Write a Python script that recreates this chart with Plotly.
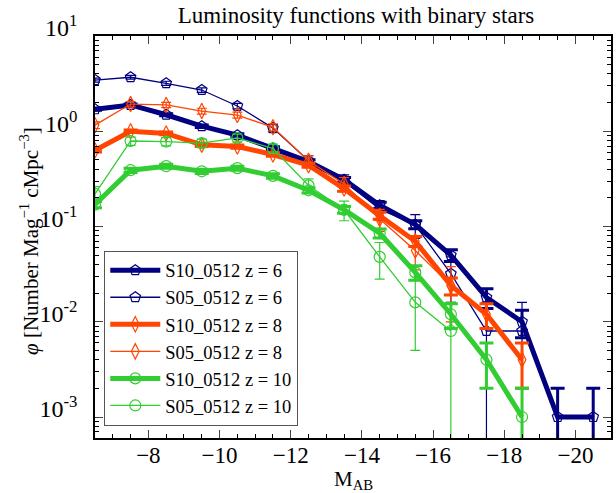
import plotly.graph_objects as go

# Magnitude bin centres
mag = [-6.5, -7.5, -8.5, -9.5, -10.5, -11.5, -12.5, -13.5, -14.5, -15.5,
       -16.5, -17.5, -18.5, -19.5, -20.5]

# S10_0512 z=6
s10_z6 = [1.70, 1.89, 1.49, 1.13, 0.91, 0.66, 0.48, 0.31, 0.167, 0.105, 0.050, 0.018, 0.010, 0.001, 0.001]
s10_z6_err = [0.041, 0.043, 0.039, 0.034, 0.030, 0.026, 0.022, 0.018, 0.013, 0.010, 0.0071, 0.0042, 0.0032, 0.001, 0.001]
# S05_0512 z=6
s05_z6 = [3.45, 3.69, 3.19, 2.71, 1.84, 1.08, 0.49, 0.30, 0.152, 0.104, 0.032, 0.008, 0.008]
s05_z6_err = [0.166, 0.172, 0.160, 0.147, 0.121, 0.093, 0.063, 0.049, 0.035, 0.029, 0.016, 0.008, 0.008]
# S10_0512 z=8
s10_z8 = [0.63, 1.00, 0.95, 0.72, 0.69, 0.57, 0.44, 0.25, 0.13, 0.070, 0.024, 0.012, 0.004]
s10_z8_err = [0.025, 0.032, 0.031, 0.027, 0.026, 0.024, 0.021, 0.016, 0.011, 0.0084, 0.0049, 0.0035, 0.002]
# S05_0512 z=8
s05_z8 = [1.16, 1.93, 1.89, 1.63, 1.48, 1.10, 0.49, 0.28, 0.12, 0.056, 0.024]
s05_z8_err = [0.096, 0.124, 0.123, 0.114, 0.109, 0.094, 0.063, 0.047, 0.031, 0.021, 0.014]
# S10_0512 z=10
s10_z10 = [0.17, 0.39, 0.43, 0.38, 0.41, 0.34, 0.24, 0.15, 0.085, 0.033, 0.012, 0.004, 0.001]
s10_z10_err = [0.013, 0.020, 0.021, 0.019, 0.020, 0.018, 0.015, 0.012, 0.0092, 0.0057, 0.0035, 0.002, 0.001]
# S05_0512 z=10
s05_z10 = [0.22, 0.79, 0.78, 0.75, 0.85, 0.66, 0.27, 0.15, 0.048, 0.016, 0.008]
s05_z10_err = [0.042, 0.079, 0.079, 0.077, 0.082, 0.073, 0.046, 0.035, 0.020, 0.011, 0.008]

names = ["S10_0512 z = 6", "S05_0512 z = 6", "S10_0512 z = 8",
         "S05_0512 z = 8", "S10_0512 z = 10", "S05_0512 z = 10"]

x_tickvals = [-8, -10, -12, -14, -16, -18, -20]
y_tickvals = [0.001, 0.01, 0.1, 1, 10]
y_ticktext = ["10<sup>-3</sup>", "10<sup>-2</sup>", "10<sup>-1</sup>", "10<sup>0</sup>", "10<sup>1</sup>"]

NAVY = "#000080"
ORANGE = "#FF4500"
GREEN = "#32CD32"

series = [
    (s10_z6, s10_z6_err, NAVY, "pentagon-open", True),
    (s05_z6, s05_z6_err, NAVY, "pentagon-open", False),
    (s10_z8, s10_z8_err, ORANGE, "diamond-tall-open", True),
    (s05_z8, s05_z8_err, ORANGE, "diamond-tall-open", False),
    (s10_z10, s10_z10_err, GREEN, "circle-open", True),
    (s05_z10, s05_z10_err, GREEN, "circle-open", False),
]

FONT = "Liberation Serif"

fig = go.Figure()
for (vals, errs, col, sym, thick), name in zip(series, names):
    fig.add_trace(go.Scatter(
        x=mag[:len(vals)], y=vals, name=name, mode="lines+markers",
        line=dict(color=col, width=5 if thick else 1.3),
        marker=dict(symbol=sym, size=11, color=col, line=dict(color=col, width=1.2)),
        error_y=dict(type="data", array=errs, visible=True, color=col,
                     thickness=3 if thick else 1.2, width=7 if thick else 5),
    ))

fig.update_layout(
    width=616, height=493,
    margin=dict(l=95, r=5, t=36, b=55),
    paper_bgcolor="white", plot_bgcolor="white",
    font=dict(family=FONT, color="black", size=20),
    title=dict(text="Luminosity functions with binary stars", x=0.578, xanchor="center",
               y=0.97, yanchor="middle", font=dict(size=23, family=FONT)),
    showlegend=True,
    legend=dict(x=0.018, y=0.466, xanchor="left", yanchor="top",
                bgcolor="white", bordercolor="#555555", borderwidth=1,
                font=dict(size=18.5, family=FONT), tracegroupgap=0,
                itemwidth=50),
    annotations=[
        dict(text="M<sub>AB</sub>", xref="paper", yref="paper", x=0.5, y=-0.105,
             xanchor="center", yanchor="middle", showarrow=False,
             font=dict(size=21, family=FONT)),
        dict(text="<i>φ</i> [Number Mag<sup>−1</sup> cMpc<sup>−3</sup>]",
             xref="paper", yref="paper", x=-0.128, y=0.49, textangle=-90,
             xanchor="center", yanchor="middle", showarrow=False,
             font=dict(size=21, family=FONT)),
    ],
)
fig.update_xaxes(
    range=[-6.5, -21], tickvals=x_tickvals, automargin=False,
    ticks="inside", ticklen=8, tickwidth=1, mirror="ticks",
    showline=True, linecolor="black", linewidth=1.5, showgrid=False, zeroline=False,
    minor=dict(ticks="inside", dtick=0.5, ticklen=4, tickcolor="black", showgrid=False),
    tickfont=dict(size=23, family=FONT), ticklabelstandoff=-4,
)
fig.update_yaxes(
    type="log", range=[-3.22, 1], tickvals=y_tickvals, ticktext=y_ticktext,
    automargin=False,
    ticks="inside", ticklen=8, tickwidth=1, mirror="ticks",
    showline=True, linecolor="black", linewidth=1.5, showgrid=False, zeroline=False,
    minor=dict(ticks="inside", dtick="D1", ticklen=4, tickcolor="black", showgrid=False),
    tickfont=dict(size=24, family=FONT), ticklabelshift=-8, ticklabelstandoff=11,
)

fig.write_html("out.html", config={"displayModeBar": False},
               post_script="document.body.style.margin='0';")
